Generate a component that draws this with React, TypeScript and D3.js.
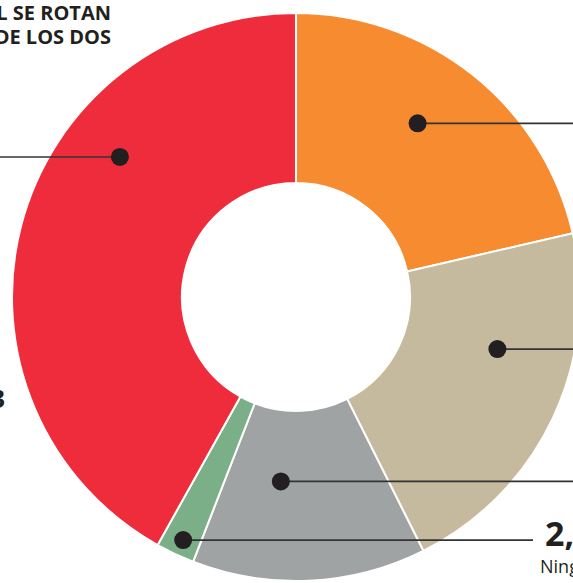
import React, { useEffect } from "react";
import * as d3 from "d3";

const categories = ["Madre", "Padre", "Otros familiares", "Ninguno", "Se rotan"];
const values = [21.4, 21.2, 13.3, 2.2, 41.9];
const colors = ["#F68B2F", "#C5B99E", "#A0A3A4", "#7AAF88", "#EE2C3C"];

// callout layout: angle (deg, clockwise from top) and radius of each dot; line end x
const calloutAngle = [35.0, 104.5, 184.7, 204.9, 308.5];
const calloutRadius = [212, 208, 185, 268, 225];
const calloutEndX = [573, 573, 573, 533, 0];

const W = 573;
const H = 583;
const cx = 296;
const cy = 297;
const outerR = 284;
const innerR = 114;

export default function App() {
  useEffect(() => {
    document.body.style.margin = "0";
  }, []);

  const pie = d3.pie<number>().sort(null).value((d) => d);
  const arcs = pie(values);
  const arc = d3.arc<d3.PieArcDatum<number>>().innerRadius(innerR).outerRadius(outerR);

  const dots = calloutAngle.map((a, i) => {
    const rad = (a * Math.PI) / 180;
    return { x: cx + calloutRadius[i] * Math.sin(rad), y: cy - calloutRadius[i] * Math.cos(rad), endX: calloutEndX[i] };
  });

  const font = "'Open Sans', 'Noto Sans', sans-serif";

  return (
    <svg width={W} height={H} style={{ display: "block", position: "absolute", left: 0, top: 0 }} fontFamily={font}>
      <g transform={`translate(${cx},${cy})`}>
        {arcs.map((a, i) => (
          <path key={categories[i]} d={arc(a) || ""} fill={colors[i]} stroke="#fff" strokeWidth={2} />
        ))}
      </g>
      {dots.map((d, i) => (
        <g key={"c" + i}>
          <line x1={d.x} y1={d.y} x2={d.endX} y2={d.y} stroke="#333" strokeWidth={1.6} />
          <circle cx={d.x} cy={d.y} r={9} fill="#231F20" />
        </g>
      ))}
      <text x={111} y={20} textAnchor="end" fontWeight={700} fontSize={20} fill="#231F20">
        AL SE ROTAN
      </text>
      <text x={111} y={44} textAnchor="end" fontWeight={700} fontSize={20} fill="#231F20">
        DE LOS DOS
      </text>
      <text x={5} y={408} textAnchor="end" fontWeight={700} fontSize={25} fill="#231F20">
        3
      </text>
      <text x={545} y={546} fontWeight={700} fontSize={34} fill="#231F20">
        {String(values[3]).replace(".", ",")}
      </text>
      <text x={540} y={573} fontSize={18} fill="#231F20">
        {categories[3]}
      </text>
    </svg>
  );
}
